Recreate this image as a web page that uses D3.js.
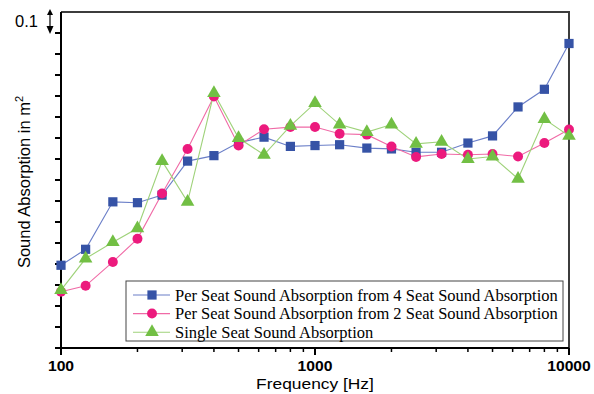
<!DOCTYPE html>
<html>
<head>
<meta charset="utf-8">
<script src="https://cdn.jsdelivr.net/npm/d3@7"></script>
<style>
  body { margin: 0; background: #fff; }
  svg { display: block; }
</style>
</head>
<body>
<div id="chart"></div>
<script>
const freqs = [100, 125, 160, 200, 250, 315, 400, 500, 630, 800, 1000, 1250, 1600, 2000, 2500, 3150, 4000, 5000, 6300, 8000, 10000];

const perSeat4 = [0.0447, 0.0485, 0.0598, 0.0596, 0.0614, 0.0695, 0.0708, 0.0739, 0.0752, 0.0730, 0.0732,
  0.0734, 0.0726, 0.0724, 0.0716, 0.0716, 0.0738, 0.0755, 0.0824, 0.0866, 0.0975];
const perSeat2 = [0.0384, 0.0398, 0.0455, 0.0510, 0.0618, 0.0724, 0.0849, 0.0732, 0.0771, 0.0776, 0.0776,
  0.0760, 0.0758, 0.0730, 0.0705, 0.0712, 0.0710, 0.0712, 0.0706, 0.0738, 0.0770];
const singleSeat = [0.0388, 0.0463, 0.0502, 0.0535, 0.0695, 0.0598, 0.0857, 0.0750, 0.0710, 0.0779, 0.0833,
  0.0782, 0.0764, 0.0782, 0.0736, 0.0741, 0.0700, 0.0706, 0.0653, 0.0795, 0.0755];

const seriesNames = [
  'Per Seat Sound Absorption from 4 Seat Sound Absorption',
  'Per Seat Sound Absorption from 2 Seat Sound Absorption',
  'Single Seat Sound Absorption'
];
const xTickValues = [100, 1000, 10000];
const yTickValues = d3.range(0.025, 0.1001, 0.005);

const width = 594, height = 394;
const margin = { top: 12, right: 25, bottom: 46, left: 61 };
const iw = width - margin.left - margin.right;
const ih = height - margin.top - margin.bottom;
const sans = 'Liberation Sans, Arial, sans-serif';
const stretch = 1.12; // the reference text is a bit wide

const svg = d3.select('#chart').append('svg')
  .attr('width', width)
  .attr('height', height);

const g = svg.append('g').attr('transform', `translate(${margin.left},${margin.top})`);

const x = d3.scaleLog().domain([100, 10000]).range([0, iw]);
const y = d3.scaleLinear().domain([0.025, 0.105]).range([ih, 0]);

function widen(sel) {
  sel.each(function () {
    const w = this.getComputedTextLength();
    d3.select(this).attr('textLength', w * stretch).attr('lengthAdjust', 'spacingAndGlyphs');
  });
}

// frame: top and right
g.append('path')
  .attr('d', `M0,0H${iw}V${ih}`)
  .attr('fill', 'none')
  .attr('stroke', '#3c3c3c')
  .attr('stroke-width', 2);

// x axis
const minor = [];
[100, 1000].forEach(dec => { for (let k = 2; k <= 9; k++) minor.push(dec * k); });
const xAxis = g.append('g').attr('transform', `translate(0,${ih})`);
xAxis.append('line').attr('x1', 0).attr('x2', iw).attr('stroke', '#000').attr('stroke-width', 2);
xAxis.selectAll('.minor').data(minor).enter().append('line')
  .attr('x1', d => x(d)).attr('x2', d => x(d))
  .attr('y1', 0).attr('y2', 4)
  .attr('stroke', '#000').attr('stroke-width', 1.5);
xAxis.selectAll('.major').data(xTickValues).enter().append('line')
  .attr('x1', d => x(d)).attr('x2', d => x(d))
  .attr('y1', 0).attr('y2', 7)
  .attr('stroke', '#000').attr('stroke-width', 2);
xAxis.selectAll('.lbl').data(xTickValues).enter().append('text')
  .attr('x', d => x(d))
  .attr('y', 23)
  .attr('text-anchor', 'middle')
  .attr('font-family', sans)
  .attr('font-weight', 'bold')
  .attr('font-size', 14)
  .text(d => d)
  .call(widen);

// y axis
const yAxis = g.append('g');
yAxis.append('line').attr('y1', 0).attr('y2', ih).attr('stroke', '#000').attr('stroke-width', 2);
yAxis.selectAll('.tk').data(yTickValues).enter().append('line')
  .attr('x1', -6).attr('x2', 0)
  .attr('y1', d => y(d)).attr('y2', d => y(d))
  .attr('stroke', '#000').attr('stroke-width', 2);
yAxis.append('text')
  .attr('x', -23)
  .attr('y', y(0.1) - 6)
  .attr('text-anchor', 'end')
  .attr('font-family', sans)
  .attr('font-size', 16.5)
  .text('0.1');

// break arrow (up-down) next to the top tick
const ax = -11;
yAxis.append('line').attr('x1', ax).attr('x2', ax).attr('y1', -1).attr('y2', y(0.1) - 2)
  .attr('stroke', '#000').attr('stroke-width', 1.2);
yAxis.append('path').attr('d', `M${ax},-3l-3,6h6z`).attr('fill', '#000');
yAxis.append('path').attr('d', `M${ax},${y(0.1) + 1}l-3.5,-8h7z`).attr('fill', '#000');

// axis titles
svg.append('text')
  .attr('x', margin.left + iw / 2)
  .attr('y', height - 5)
  .attr('text-anchor', 'middle')
  .attr('font-family', sans)
  .attr('font-size', 15.5)
  .text('Frequency [Hz]')
  .call(widen);

const yt = svg.append('text')
  .attr('transform', `translate(30,${margin.top + ih / 2 + 2}) rotate(-90)`)
  .attr('text-anchor', 'middle')
  .attr('font-family', sans)
  .attr('font-size', 16.5);
yt.append('tspan').text('Sound Absorption in m');
yt.append('tspan').attr('dy', -7).attr('font-size', 11).text('2');

// series
const series = [
  { name: seriesNames[0], values: perSeat4, line: '#6b7fc8', fill: '#3653a6', shape: 'square' },
  { name: seriesNames[1], values: perSeat2, line: '#f06aa6', fill: '#ec1a7d', shape: 'circle' },
  { name: seriesNames[2], values: singleSeat, line: '#9fd27a', fill: '#72bf44', shape: 'triangle' }
];

const symbolFor = s => {
  if (s === 'square') return d3.symbol().type(d3.symbolSquare).size(85);
  if (s === 'circle') return d3.symbol().type(d3.symbolCircle).size(78);
  return d3.symbol().type(d3.symbolTriangle).size(80);
};

const line = d3.line().x(d => x(d[0])).y(d => y(d[1]));

series.forEach(s => {
  const pts = freqs.map((f, i) => [f, s.values[i]]);
  g.append('path')
    .attr('d', line(pts))
    .attr('fill', 'none')
    .attr('stroke', s.line)
    .attr('stroke-width', 1.1);
});
series.forEach(s => {
  const pts = freqs.map((f, i) => [f, s.values[i]]);
  g.selectAll(null).data(pts).enter().append('path')
    .attr('d', symbolFor(s.shape)())
    .attr('transform', d => `translate(${x(d[0])},${y(d[1])})`)
    .attr('fill', s.fill);
});

// legend
const lg = svg.append('g').attr('transform', 'translate(126,281)');
lg.append('rect')
  .attr('width', 437).attr('height', 60)
  .attr('fill', '#fff')
  .attr('stroke', '#444').attr('stroke-width', 1);
series.forEach((s, i) => {
  const yy = 14 + i * 18.6;
  lg.append('line').attr('x1', 7).attr('x2', 44).attr('y1', yy).attr('y2', yy)
    .attr('stroke', s.line).attr('stroke-width', 1.1);
  lg.append('path').attr('d', symbolFor(s.shape)())
    .attr('transform', `translate(26,${yy})`).attr('fill', s.fill);
  lg.append('text')
    .attr('x', 49).attr('y', yy + 5.5)
    .attr('font-family', 'Liberation Serif, Times New Roman, serif')
    .attr('font-size', 16)
    .text(s.name)
    .each(function () {
      const w = this.getComputedTextLength();
      d3.select(this).attr('textLength', w * 1.03).attr('lengthAdjust', 'spacingAndGlyphs');
    });
});
</script>
</body>
</html>
